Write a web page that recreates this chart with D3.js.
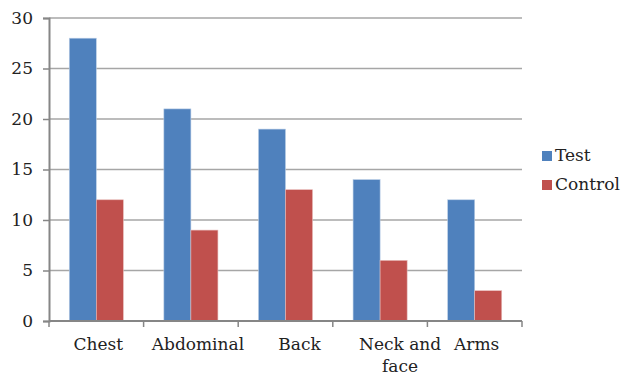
<!DOCTYPE html>
<html>
<head>
<meta charset="utf-8">
<script src="https://cdn.jsdelivr.net/npm/d3@7"></script>
<style>
  body { margin: 0; background: #fff; }
  svg text { font-family: "DejaVu Serif", "Liberation Serif", serif; fill: #222; }
</style>
</head>
<body>
<svg id="chart" width="626" height="376"></svg>
<script>
// chart data
const categories = ['Chest', 'Abdominal', 'Back', 'Neck and face', 'Arms']
const seriesNames = ['Test', 'Control']
const testValues = [28, 21, 19, 14, 12]
const controlValues = [12, 9, 13, 6, 3]
const yTicks = [0, 5, 10, 15, 20, 25, 30]
const colors = ['#4F81BD', '#C0504D']

const margin = { top: 18, left: 49, right: 104, bottom: 55 }
const width = 626, height = 376

const svg = d3.select('#chart')

const x = d3.scaleBand()
    .domain(categories)
    .range([margin.left, width - margin.right])

const xInner = d3.scaleBand()
    .domain(seriesNames)
    .range([0, x.bandwidth()])
    .paddingOuter(0.75)

const y = d3.scaleLinear()
    .domain([0, 30])
    .range([height - margin.bottom, margin.top])

// gridlines
svg.append('g')
    .selectAll('line')
    .data(yTicks.filter(d => d > 0))
    .join('line')
    .attr('x1', margin.left)
    .attr('x2', width - margin.right)
    .attr('y1', d => y(d))
    .attr('y2', d => y(d))
    .attr('stroke', '#a6a6a6')
    .attr('stroke-width', 1.3)

// bars
const rows = categories.map((c, i) => ({ cat: c, vals: [testValues[i], controlValues[i]] }))
const group = svg.append('g')
    .selectAll('g')
    .data(rows)
    .join('g')
    .attr('transform', d => `translate(${x(d.cat)},0)`)

group.selectAll('rect')
    .data(d => d.vals.map((v, j) => ({ name: seriesNames[j], value: v, j: j })))
    .join('rect')
    .attr('x', d => xInner(d.name))
    .attr('width', xInner.bandwidth())
    .attr('y', d => y(d.value))
    .attr('height', d => y(0) - y(d.value))
    .attr('fill', d => colors[d.j])
    .attr('stroke', d => d.j == 0 ? '#b9cde5' : '#e6b9b8')
    .attr('stroke-width', 0.6)

// y axis
const yAxis = d3.axisLeft(y)
    .tickValues(yTicks)
    .tickSize(6)
    .tickPadding(10)
svg.append('g')
    .attr('transform', `translate(${margin.left},0)`)
    .call(yAxis)
    .call(g => g.selectAll('line').attr('stroke', '#868686').attr('stroke-width', 1.5))
    .call(g => g.select('.domain').attr('stroke', '#868686').attr('stroke-width', 2))
    .call(g => g.selectAll('text').style('font-size', '17px').attr('fill', '#222')
        .style('font-family', '"DejaVu Serif", serif'))

// x axis (ticks at category boundaries)
const bounds = categories.map(c => x(c)).concat([x(categories[categories.length - 1]) + x.bandwidth()])
const xg = svg.append('g')
xg.append('line')
    .attr('x1', margin.left)
    .attr('x2', width - margin.right)
    .attr('y1', y(0))
    .attr('y2', y(0))
    .attr('stroke', '#868686')
    .attr('stroke-width', 2)
xg.selectAll('.xtick')
    .data(bounds)
    .join('line')
    .attr('class', 'xtick')
    .attr('x1', d => d)
    .attr('x2', d => d)
    .attr('y1', y(0))
    .attr('y2', y(0) + 6)
    .attr('stroke', '#868686')
    .attr('stroke-width', 1.5)

// category labels, wrapped like the original
const wrapAt = { 'Neck and face': ['Neck and', 'face'] }
xg.selectAll('.xlabel')
    .data(categories)
    .join('text')
    .attr('class', 'xlabel')
    .attr('text-anchor', 'middle')
    .attr('x', (d, i) => x(d) + x.bandwidth() / 2 + (wrapAt[d] ? 20 : i == 2 ? 14 : i == 1 ? 7 : 2))
    .attr('y', y(0) + 29)
    .style('font-size', '17px')
    .each(function (d) {
        const lines = wrapAt[d] || [d]
        d3.select(this).selectAll('tspan')
            .data(lines)
            .join('tspan')
            .attr('x', d3.select(this).attr('x'))
            .attr('dy', (l, i) => i == 0 ? 0 : 22)
            .text(l => l)
    })

// legend
const legend = svg.append('g')
    .selectAll('g')
    .data(seriesNames)
    .join('g')
    .attr('transform', (d, i) => `translate(542,${151 + i * 29})`)
legend.append('rect')
    .attr('width', 10)
    .attr('height', 10)
    .attr('fill', (d, i) => colors[i])
legend.append('text')
    .attr('x', 13)
    .attr('y', 10)
    .style('font-size', '17px')
    .text(d => d)
</script>
</body>
</html>
